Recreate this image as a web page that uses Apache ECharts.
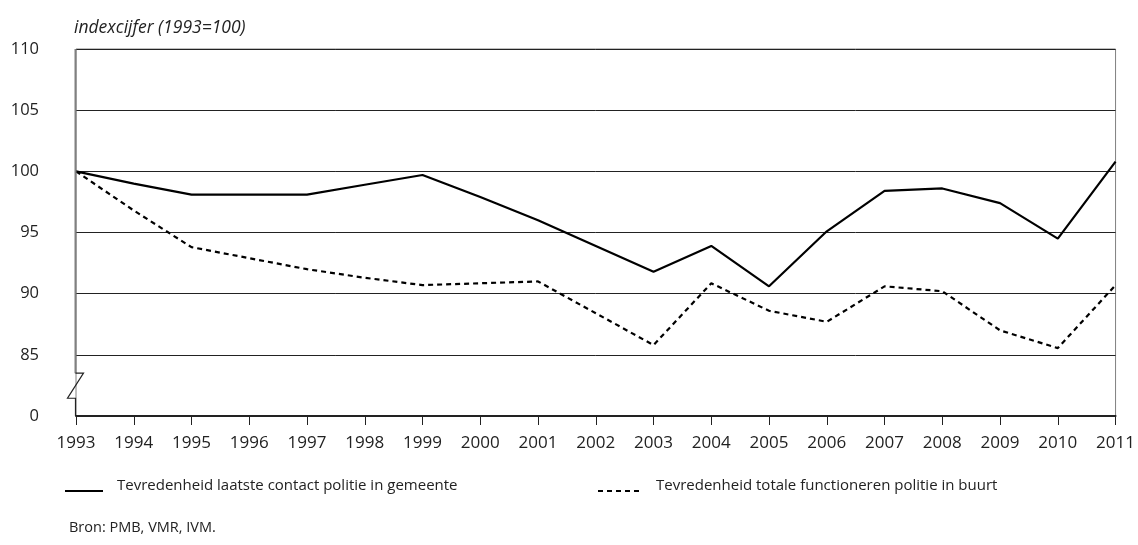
<!DOCTYPE html>
<html>
<head>
<meta charset="utf-8">
<script src="https://cdn.jsdelivr.net/npm/echarts@6/dist/echarts.min.js"></script>
<style>html,body{margin:0;padding:0;background:#fff}#c{width:1138px;height:545px}</style>
</head>
<body>
<div id="c"></div>
<script>
const years = ['1993','1994','1995','1996','1997','1998','1999','2000','2001','2002','2003','2004','2005','2006','2007','2008','2009','2010','2011'];
const contactGemeente = [100, 99.0, 98.1, 98.1, 98.1, 98.9, 99.7, 97.9, 96.0, 93.9, 91.8, 93.9, 90.6, 95.1, 98.4, 98.6, 97.4, 94.5, 100.8];
const functionerenBuurt = [100, 96.8, 93.8, 92.9, 92.0, 91.3, 90.7, 90.85, 91.0, 88.4, 85.8, 90.85, 88.6, 87.7, 90.6, 90.2, 87.0, 85.55, 90.7];
const yTickLabels = {80: '0', 85: '85', 90: '90', 95: '95', 100: '100', 105: '105', 110: '110'};
const seriesNames = ['Tevredenheid laatste contact politie in gemeente', 'Tevredenheid totale functioneren politie in buurt'];
const axisTitle = 'indexcijfer (1993=100)';
const source = 'Bron: PMB, VMR, IVM.';

const FONT = 'Open Sans';
const TXT = '#222';
const DASH = [5, 4];
const chart = echarts.init(document.getElementById('c'), null, {renderer: 'canvas'});
chart.setOption({
  animation: false,
  backgroundColor: '#fff',
  textStyle: {fontFamily: FONT, color: TXT},
  grid: {left: 76, right: 20, top: 49, bottom: 129, show: true, borderColor: '#808080', borderWidth: 1, containLabel: false},
  title: {text: source, left: 64, top: 515, textStyle: {fontFamily: FONT, fontSize: 14.5, fontWeight: 'normal', color: TXT}},
  legend: {show: false},
  xAxis: {
    type: 'category', data: years, boundaryGap: false,
    axisLine: {show: true, lineStyle: {color: '#222', width: 2}},
    axisTick: {show: true, length: 9, lineStyle: {color: '#222', width: 1}},
    axisLabel: {fontFamily: FONT, fontSize: 17, color: TXT, margin: 19},
    splitLine: {show: false}
  },
  yAxis: {
    type: 'value', min: 80, max: 110, interval: 5,
    name: axisTitle, nameLocation: 'end', nameGap: 12,
    nameTextStyle: {fontFamily: FONT, fontSize: 17.5, fontStyle: 'italic', color: TXT, align: 'left', padding: [0, 0, 0, -2]},
    axisLine: {show: false},
    axisTick: {show: false},
    axisLabel: {fontFamily: FONT, fontSize: 16.5, color: TXT, margin: 37, formatter: v => yTickLabels[v] ?? ''},
    splitLine: {show: true, lineStyle: {color: '#222', width: 1}, showMinLine: false}
  },
  series: [
    {name: seriesNames[0], type: 'line', data: contactGemeente, symbol: 'none', lineStyle: {color: '#000', width: 2.2}, z: 3},
    {name: seriesNames[1], type: 'line', data: functionerenBuurt, symbol: 'none', lineStyle: {color: '#000', width: 2.2, type: DASH}, z: 3}
  ]
});

// left axis line with break symbol, positioned through the axis scale
const x0 = chart.convertToPixel({xAxisIndex: 0}, years[0]);
const yTop = chart.convertToPixel({yAxisIndex: 0}, 110);
const yBot = chart.convertToPixel({yAxisIndex: 0}, 80);
const yB1 = chart.convertToPixel({yAxisIndex: 0}, 83.5);
const yB2 = chart.convertToPixel({yAxisIndex: 0}, 81.45);
const legY = 488;
chart.setOption({
  graphic: [
    {type: 'line', shape: {x1: x0 - 0.5, y1: yTop, x2: x0 - 0.5, y2: yB1}, style: {stroke: '#808080', lineWidth: 2}, z: 10},
    {type: 'polyline', shape: {points: [[x0 - 0.5, yB1], [x0 + 7.5, yB1], [x0 - 8.5, yB2], [x0 - 0.5, yB2], [x0 - 0.5, yBot]]}, style: {stroke: '#222', lineWidth: 1.2, fill: null}, z: 10},
    // legend
    {type: 'line', shape: {x1: 65, y1: legY + 3, x2: 103, y2: legY + 3}, style: {stroke: '#000', lineWidth: 2.2}},
    {type: 'text', left: 117, top: legY - 10, style: {text: seriesNames[0], fontFamily: FONT, fontSize: 15, fill: TXT}},
    {type: 'line', shape: {x1: 598, y1: legY + 3, x2: 642, y2: legY + 3}, style: {stroke: '#000', lineWidth: 2.2, lineDash: DASH}},
    {type: 'text', left: 656, top: legY - 10, style: {text: seriesNames[1], fontFamily: FONT, fontSize: 15, fill: TXT}}
  ]
});
</script>
</body>
</html>
